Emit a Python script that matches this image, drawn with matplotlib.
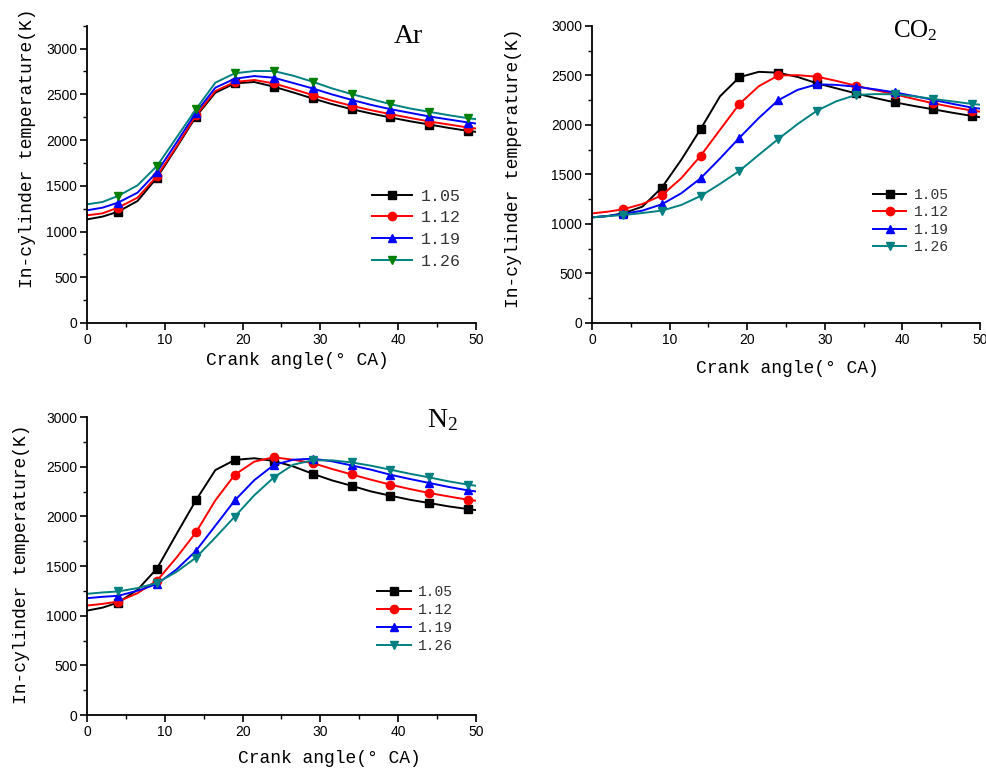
import numpy as np
import matplotlib
matplotlib.use("Agg")
import matplotlib.pyplot as plt
from matplotlib.ticker import MultipleLocator

plt.rcParams['font.family'] = 'Liberation Sans'
plt.rcParams['mathtext.default'] = 'regular'

angle = [0, 2, 4, 6.5, 9, 11.5, 14, 16.5, 19, 21.5, 24, 26.5, 29, 31.5,
         34, 36.5, 39, 41.5, 44, 46.5, 49, 50]
labels = ['1.05', '1.12', '1.19', '1.26']

# Ar
ar_105 = [1133, 1163, 1217, 1334, 1589, 1917, 2256, 2518, 2620, 2635, 2584, 2521,
          2455, 2393, 2338, 2291, 2247, 2206, 2170, 2133, 2100, 2090]
ar_112 = [1177, 1199, 1261, 1370, 1607, 1928, 2270, 2536, 2635, 2657, 2620, 2558,
          2492, 2430, 2375, 2327, 2283, 2243, 2203, 2170, 2137, 2126]
ar_119 = [1232, 1261, 1316, 1425, 1651, 1972, 2300, 2573, 2671, 2700, 2682, 2624,
          2565, 2499, 2440, 2385, 2338, 2298, 2258, 2225, 2192, 2181]
ar_126 = [1297, 1323, 1389, 1505, 1717, 2026, 2336, 2628, 2730, 2755, 2755, 2704,
          2638, 2565, 2503, 2448, 2393, 2346, 2309, 2272, 2239, 2229]

# CO2
co2_105 = [1067, 1080, 1107, 1175, 1368, 1648, 1959, 2290, 2483, 2537, 2528, 2485,
           2421, 2370, 2320, 2272, 2229, 2192, 2158, 2123, 2091, 2078]
co2_112 = [1107, 1124, 1148, 1202, 1290, 1462, 1689, 1952, 2213, 2392, 2500, 2503,
           2488, 2445, 2397, 2352, 2310, 2263, 2219, 2180, 2145, 2135]
co2_119 = [1067, 1080, 1101, 1135, 1199, 1310, 1462, 1662, 1871, 2071, 2250, 2355,
           2411, 2405, 2387, 2360, 2330, 2292, 2253, 2213, 2175, 2165]
co2_126 = [1067, 1080, 1090, 1111, 1135, 1192, 1283, 1405, 1537, 1699, 1858, 2010,
           2145, 2240, 2303, 2312, 2310, 2290, 2263, 2238, 2212, 2205]

# N2
n2_105 = [1051, 1081, 1132, 1261, 1475, 1821, 2161, 2466, 2568, 2585, 2558, 2503,
          2429, 2362, 2308, 2251, 2208, 2167, 2134, 2100, 2073, 2063]
n2_112 = [1102, 1119, 1142, 1227, 1353, 1584, 1838, 2161, 2419, 2551, 2595, 2570,
          2537, 2477, 2422, 2369, 2319, 2275, 2235, 2200, 2167, 2157]
n2_119 = [1176, 1190, 1200, 1251, 1319, 1465, 1652, 1906, 2161, 2364, 2517, 2570,
          2581, 2554, 2513, 2470, 2419, 2376, 2336, 2296, 2261, 2251]
n2_126 = [1220, 1234, 1244, 1278, 1329, 1441, 1584, 1787, 1998, 2212, 2391, 2520,
          2564, 2564, 2543, 2510, 2470, 2429, 2392, 2352, 2319, 2308]

colors = ['#000000', '#ff0000', '#0000ff', '#008080']
markers = ['s', 'o', '^', 'v']
mono = 'Liberation Mono'

fig = plt.figure(figsize=(9.87, 7.69), dpi=100)

def panel(rect, series, ytop, mcolors, xlab_pos, ylab_pos, leg_pos, leg_fs,
          leg_hl, leg_sp):
    ax = fig.add_axes(rect)
    for y, c, m, mc, lab in zip(series, colors, markers, mcolors, labels):
        ax.plot(angle, y, color=c, lw=1.4, marker=m, ms=6, mfc=mc, mec=mc,
                markevery=slice(2, 21, 2), label=lab)
    ax.set_xlim(0, 50)
    ax.set_ylim(0, ytop)
    ax.xaxis.set_major_locator(MultipleLocator(10))
    ax.xaxis.set_minor_locator(MultipleLocator(5))
    ax.yaxis.set_major_locator(MultipleLocator(500))
    ax.yaxis.set_minor_locator(MultipleLocator(250))
    ax.set_yticks(np.arange(0, 3001, 500))
    ax.spines['top'].set_visible(False)
    ax.spines['right'].set_visible(False)
    for s in ['left', 'bottom']:
        ax.spines[s].set_linewidth(1.3)
    ax.tick_params(which='major', direction='out', length=5, width=1.2,
                   labelsize=10, pad=2)
    ax.tick_params(which='minor', direction='out', length=3, width=1.0)
    ax.set_xlabel('Crank angle(° CA)', fontfamily=mono, fontsize=13)
    ax.set_ylabel('In-cylinder temperature(K)', fontfamily=mono, fontsize=13)
    ax.xaxis.set_label_coords(*xlab_pos)
    ax.yaxis.set_label_coords(*ylab_pos)
    leg = ax.legend(loc='upper left', bbox_to_anchor=leg_pos, frameon=False,
                    borderpad=0, borderaxespad=0, handlelength=leg_hl,
                    handletextpad=0.5, labelspacing=leg_sp,
                    prop={'family': mono, 'size': leg_fs})
    for t in leg.get_texts():
        t.set_color('#333333')
    return ax

panel([0.0881, 0.580, 0.3942, 0.3865], [ar_105, ar_112, ar_119, ar_126], 3250,
      ['#000000', '#ff0000', '#0000ff', '#008000'],
      (0.542, -0.098), (-0.13, 0.589), (0.733, 0.452), 12, 2.4, 0.4)
panel([0.5998, 0.580, 0.3931, 0.3862], [co2_105, co2_112, co2_119, co2_126], 3000,
      colors, (0.503, -0.125), (-0.18, 0.522), (0.724, 0.455), 10.5, 2.3, 0.24)
panel([0.0881, 0.0702, 0.3942, 0.3875], [n2_105, n2_112, n2_119, n2_126], 3000,
      colors, (0.622, -0.117), (-0.147, 0.507), (0.746, 0.437), 10.5, 2.3, 0.28)

serif = 'Liberation Serif'
fig.text(0.399, 0.944, 'Ar', fontfamily=serif, fontsize=20, va='baseline')
fig.text(0.905, 0.951, '$CO_2$', fontfamily=serif, fontsize=18, va='baseline')
fig.text(0.4326, 0.4447, '$N_2$', fontfamily=serif, fontsize=20, va='baseline')

fig.savefig('out.png', dpi=100)
